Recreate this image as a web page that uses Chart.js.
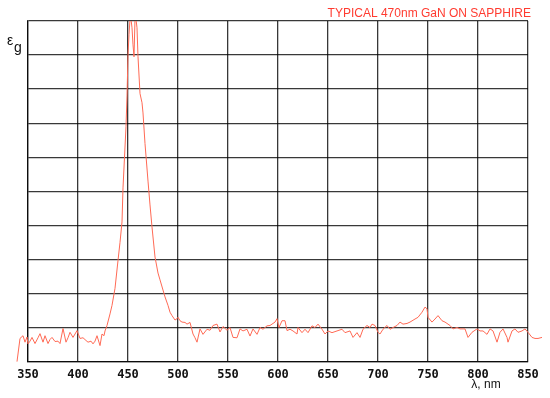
<!DOCTYPE html>
<html>
<head>
<meta charset="utf-8">
<script src="https://cdn.jsdelivr.net/npm/chart.js@4/dist/chart.umd.min.js"></script>
<style>
  html, body { margin: 0; padding: 0; background: #fff; }
  #wrap { width: 550px; height: 398px; }
</style>
</head>
<body>
<div id="wrap"><canvas id="myChart"></canvas></div>
<script>
// spectrum data
const wavelengths = [
  339, 342, 345, 347, 349, 350, 352, 354, 357, 360, 362, 365, 367, 370, 372, 374, 377, 380, 382, 385,
  388, 390, 392, 395, 399, 402, 405, 408, 410, 413, 415, 417, 419, 422, 424, 426, 427, 429, 432, 434,
  437, 440, 442, 444, 445, 447, 448, 449, 450, 451, 452, 453, 454, 455, 456, 457, 458, 459, 460, 462,
  464, 465, 467, 470, 472, 474, 477, 480, 482, 485, 487, 490, 492, 494, 497, 499, 500, 502, 504, 507,
  509, 512, 515, 517, 519, 522, 525, 529, 532, 535, 539, 542, 545, 549, 552, 555, 559, 562, 565, 569,
  572, 575, 579, 582, 585, 589, 592, 597, 599, 601, 604, 607, 609, 612, 615, 619, 620, 624, 627, 630,
  634, 637, 640, 644, 647, 650, 654, 659, 664, 667, 672, 675, 679, 682, 685, 689, 692, 694, 697, 700,
  702, 705, 709, 712, 715, 719, 722, 725, 729, 732, 737, 740, 744, 747, 749, 750, 754, 757, 760, 764,
  767, 772, 775, 779, 782, 787, 790, 794, 799, 802, 805, 809, 812, 815, 819, 822, 825, 829, 830, 834,
  837, 840, 844, 847, 850, 854, 857, 860, 864
]
const intensity = [
  0.0, 0.68, 0.76, 0.57, 0.72, 0.52, 0.6, 0.71, 0.53, 0.7, 0.82, 0.57, 0.76, 0.53, 0.65, 0.71, 0.59, 0.6, 0.53, 0.97,
  0.57, 0.7, 0.86, 0.71, 0.91, 0.68, 0.7, 0.62, 0.57, 0.6, 0.52, 0.6, 0.76, 0.47, 0.81, 0.76, 0.9, 1.06, 1.4, 1.65,
  2.15, 2.97, 3.5, 4.1, 5.1, 6.3, 6.9, 7.8, 9.0, 9.6, 10.05, 10.05, 9.8, 9.3, 8.95, 10.05, 10.05, 9.8, 8.95, 7.87,
  7.6, 7.3, 6.4, 5.3, 4.6, 3.95, 3.07, 2.6, 2.4, 2.1, 1.9, 1.65, 1.45, 1.35, 1.22, 1.26, 1.3, 1.2, 1.16, 1.15,
  1.1, 1.15, 0.81, 0.7, 0.57, 0.96, 0.8, 0.95, 0.92, 1.06, 1.1, 0.87, 1.03, 0.92, 1.0, 0.71, 0.7, 0.96, 0.9, 0.95,
  0.75, 0.96, 0.8, 1.0, 0.95, 1.05, 1.06, 1.16, 1.26, 1.0, 1.2, 1.2, 0.91, 0.95, 0.9, 0.81, 1.0, 0.85, 0.95, 0.85,
  1.05, 1.0, 1.1, 0.95, 0.81, 0.9, 0.85, 0.9, 0.95, 0.85, 0.9, 0.71, 0.85, 0.71, 0.95, 1.06, 1.0, 1.1, 1.06, 0.86,
  0.81, 0.95, 1.06, 0.95, 1.0, 1.06, 1.16, 1.1, 1.12, 1.16, 1.25, 1.3, 1.45, 1.6, 1.55, 1.3, 1.16, 1.25, 1.35, 1.2,
  1.16, 1.06, 0.96, 1.0, 0.96, 0.96, 0.71, 0.86, 0.96, 0.9, 0.9, 0.8, 0.96, 0.9, 0.57, 0.86, 0.96, 0.71, 0.57, 0.9,
  0.96, 0.86, 0.9, 0.96, 0.86, 0.71, 0.68, 0.68, 0.71
]
const xTicks = [350, 400, 450, 500, 550, 600, 650, 700, 750, 800, 850]

const titleText = 'TYPICAL 470nm GaN ON SAPPHIRE'
const xLabel = 'λ, nm'

const points = wavelengths.map((w, i) => ({ x: w, y: intensity[i] }))

// extra texts: title, epsilon_g and the axis unit
const labelsPlugin = {
    id: 'labels',
    afterDraw(chart) {
        const ctx = chart.ctx
        ctx.save()
        ctx.textBaseline = 'alphabetic'
        ctx.fillStyle = '#ff3b30'
        ctx.font = '12px "Liberation Sans", Arial, sans-serif'
        ctx.textAlign = 'right'
        ctx.fillText(titleText, 531, 17)

        ctx.fillStyle = '#111'
        ctx.textAlign = 'left'
        ctx.font = '14px "Liberation Sans", Arial, sans-serif'
        ctx.fillText('ε', 7, 45)
        ctx.fillText('g', 14, 52)

        ctx.font = '12px "Liberation Sans", Arial, sans-serif'
        ctx.textAlign = 'center'
        ctx.fillText(xLabel, 486, 388)
        ctx.restore()
    }
}

const gridColor = 'rgba(0,0,0,0.78)'

const config = {
    type: 'line',
    data: {
        datasets: [{
            data: points,
            borderColor: '#ff6a55',
            borderWidth: 1,
            pointRadius: 0,
            tension: 0,
            fill: false,
            clip: { left: 20, top: 0, right: 20, bottom: 5 }
        }]
    },
    options: {
        responsive: true,
        maintainAspectRatio: false,
        animation: false,
        layout: { padding: { left: 28, right: 22, top: 21, bottom: 10 } },
        plugins: {
            legend: { display: false },
            tooltip: { enabled: false }
        },
        scales: {
            x: {
                type: 'linear',
                // bounds set here so points outside 350..850 are still drawn
                afterDataLimits(scale) { scale.min = 350; scale.max = 850 },
                afterBuildTicks(scale) { scale.ticks = xTicks.map(v => ({ value: v })) },
                grid: { color: gridColor, lineWidth: 1.3, drawTicks: false },
                border: { color: gridColor, width: 1.3 },
                ticks: {
                    color: '#111',
                    padding: 6,
                    maxRotation: 0,
                    font: { family: '"DejaVu Sans Mono", monospace', size: 12, weight: 'bold' }
                }
            },
            y: {
                min: 0,
                max: 10,
                ticks: { display: false, stepSize: 1 },
                grid: { color: gridColor, lineWidth: 1.3, drawTicks: false },
                border: { color: gridColor, width: 1.3 }
            }
        }
    },
    plugins: [labelsPlugin]
}

const myChart = new Chart(document.getElementById('myChart'), config)
</script>
</body>
</html>
